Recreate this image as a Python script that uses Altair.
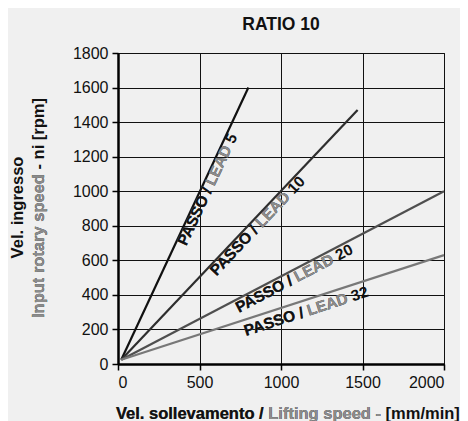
import math
import altair as alt
import pandas as pd

# ---- data ----
leads = ["5", "10", "20", "32"]
start_speed = [20, 20, 20, 20]          # mm/min
start_rpm = [25, 25, 25, 25]            # rpm
end_speed = [800, 1470, 2000, 2000]     # mm/min
end_rpm = [1600, 1470, 1000, 630]       # rpm
line_colors = ["#111111", "#2e2e2e", "#4f4f4f", "#787878"]

x_ticks = [0, 500, 1000, 1500, 2000]
y_ticks = [0, 200, 400, 600, 800, 1000, 1200, 1400, 1600, 1800]

title_text = "RATIO 10"
x_title_parts = ["Vel. sollevamento / ", "Lifting speed - ", "[mm/min]"]
y_title_line1 = "Vel. ingresso"
y_title_parts = ["Input rotary speed", " - ni [rpm]"]

# ---- layout / style ----
W, H = 326, 311
XMAX, YMAX = 2000, 1800
FONT = "Liberation Sans, Arial, sans-serif"
GRAY = "#8c8c8c"
INK = "#111111"
label_start_px = [130, 126, 126, 126]   # px along each line where its label begins
label_gap_px = [11, 12, 13, 16]         # px between line and label baseline

# lines table
rows = []
for i, lead in enumerate(leads):
    rows.append({"lead": lead, "speed": start_speed[i], "rpm": start_rpm[i], "o": 0})
    rows.append({"lead": lead, "speed": end_speed[i], "rpm": end_rpm[i], "o": 1})
lines_df = pd.DataFrame(rows)

# label table (anchor along each line, rotated like the line)
lab = []
for i, lead in enumerate(leads):
    dxp = (end_speed[i] - start_speed[i]) * W / XMAX
    dyp = (end_rpm[i] - start_rpm[i]) * H / YMAX
    length = math.hypot(dxp, dyp)
    f = label_start_px[i] / length
    lab.append({
        "lead": lead,
        "speed": start_speed[i] + f * (end_speed[i] - start_speed[i]),
        "rpm": start_rpm[i] + f * (end_rpm[i] - start_rpm[i]),
        "angle": (360 - math.degrees(math.atan2(dyp, dxp))) % 360,
        "full": "PASSO / LEAD " + lead,
        "mid": "PASSO / LEAD",
        "head": "PASSO /",
    })
lab_df = pd.DataFrame(lab)

xs = alt.Scale(domain=[0, XMAX], nice=False, zero=True)
ys = alt.Scale(domain=[0, YMAX], nice=False, zero=True)
x_axis = alt.Axis(values=x_ticks, format="d", title=None, labelAngle=0,
                  labelOverlap=False, tickCount=len(x_ticks))
y_axis = alt.Axis(values=y_ticks, format="d", title=None, labelOverlap=False,
                  tickCount=len(y_ticks))
X_ENC = alt.X("speed:Q", scale=xs, axis=x_axis)
Y_ENC = alt.Y("rpm:Q", scale=ys, axis=y_axis)

lines = alt.Chart(lines_df).mark_line(strokeWidth=2.2).encode(
    x=X_ENC,
    y=Y_ENC,
    color=alt.Color("lead:N", scale=alt.Scale(domain=leads, range=line_colors), legend=None),
    order="o:Q",
)

def label_layer(idx, field, color):
    return alt.Chart(lab_df.iloc[[idx]]).mark_text(
        align="left", baseline="alphabetic", dy=label_gap_px[idx], font=FONT,
        fontWeight="bold", fontSize=15.5, color=color,
    ).encode(
        x=X_ENC,
        y=Y_ENC,
        angle=alt.Angle("angle:Q", scale=None),
        text=f"{field}:N",
    )

label_layers = []
for idx in range(len(leads)):
    label_layers += [label_layer(idx, "full", INK),
                     label_layer(idx, "mid", GRAY),
                     label_layer(idx, "head", INK)]

def free_text(txt, x, y, color, align="left", baseline="alphabetic", angle=0):
    return alt.Chart(pd.DataFrame({"t": [txt]})).mark_text(
        align=align, baseline=baseline, angle=angle, font=FONT,
        fontWeight="bold", fontSize=16.5, color=color,
    ).encode(x=alt.value(x), y=alt.value(y), text="t:N")

# x title: black / gray / black
xt_full = "".join(x_title_parts)
x_title = (free_text(xt_full, -2, 366, INK)
           + free_text(x_title_parts[0] + x_title_parts[1], -2, 366, GRAY)
           + free_text(x_title_parts[0], -2, 366, INK))

# y title
y_title = (free_text(y_title_line1, -100, 154.5, INK, align="center",
                     baseline="middle", angle=270)
           + free_text("".join(y_title_parts), -79, 265, INK,
                       baseline="middle", angle=270)
           + free_text(y_title_parts[0], -79, 265, GRAY,
                       baseline="middle", angle=270))

chart = alt.layer(lines, *label_layers, x_title, y_title).properties(
    width=W, height=H,
    background="#f0f0f0",
    padding={"left": 2, "top": 7, "right": 0, "bottom": 0},
    title=alt.TitleParams(title_text, font=FONT, fontSize=17.5, fontWeight="bold",
                          color=INK, anchor="middle", frame="group", offset=12),
).configure_view(
    stroke=INK, strokeWidth=1,
).configure_axis(
    grid=True, gridColor=INK, gridWidth=1, gridOpacity=1,
    domainColor="#000000", domainWidth=2.5,
    tickColor="#000000", tickSize=6, tickWidth=1.5,
    labelFont=FONT, labelFontSize=16, labelColor=INK, labelPadding=4,
)

chart.save("out.html", embed_options={"renderer": "svg", "actions": False})
